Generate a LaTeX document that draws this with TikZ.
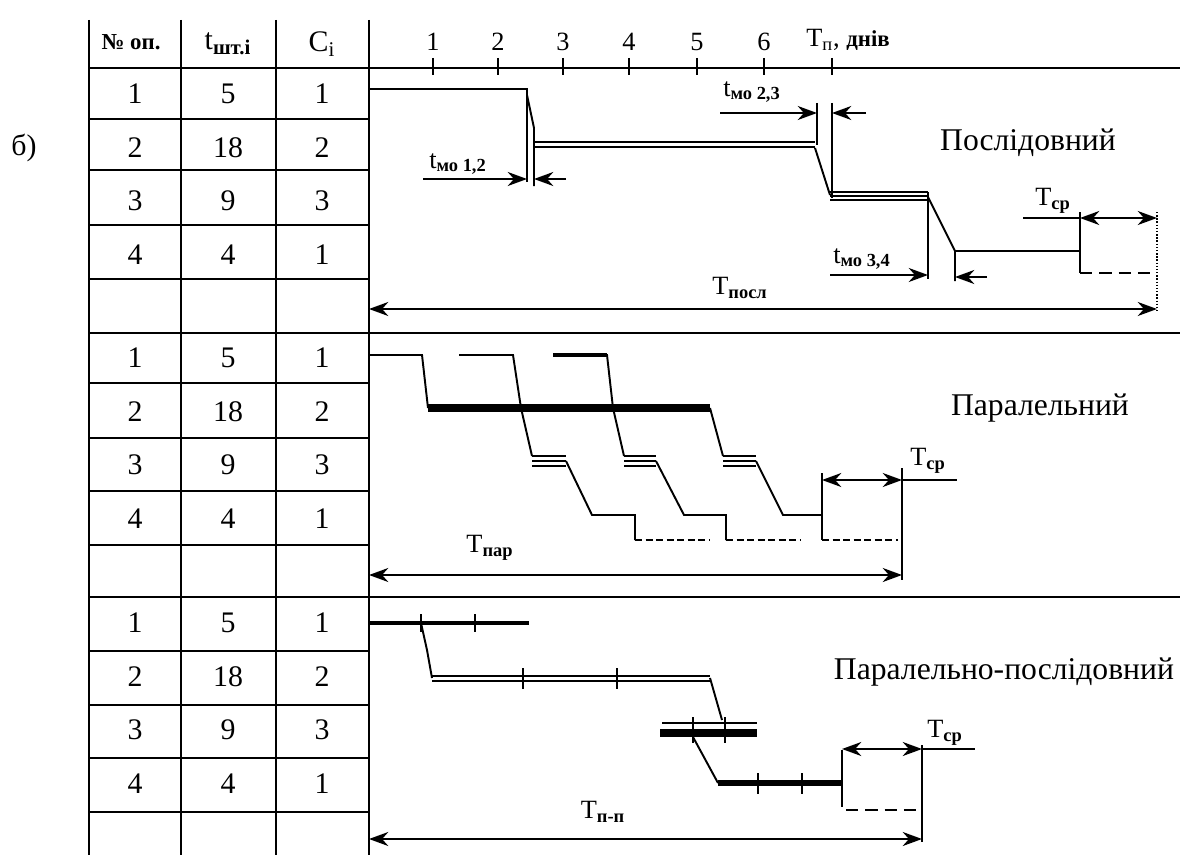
\documentclass[tikz,border=0pt]{standalone}
\usepackage{fontspec}
\setmainfont{Liberation Serif}
\usetikzlibrary{arrows.meta}
\begin{document}
\begin{tikzpicture}[x=0.02cm,y=-0.02cm,
  tab/.style={line width=1.5pt},
  ln/.style={line width=1.1pt},
  bar/.style={line width=4.5pt},
  tk/.style={line width=1.6pt},
  ar/.style={line width=1.1pt,-{Stealth[length=11pt,width=8pt]}},
  dar/.style={line width=1.1pt,{Stealth[length=11pt,width=8pt]}-{Stealth[length=11pt,width=8pt]}},
  dsh/.style={line width=1.6pt,dash pattern=on 7pt off 4pt},
  dsht/.style={line width=1.1pt,dash pattern=on 4pt off 2pt},
  num/.style={font=\fontsize{17}{20}\selectfont, inner sep=0pt},
  hd/.style={font=\fontsize{13}{15}\selectfont, inner sep=0pt},
  axl/.style={font=\fontsize{15}{18}\selectfont, inner sep=0pt},
  lb/.style={font=\fontsize{15}{18}\selectfont, inner sep=0pt},
  ttl/.style={font=\fontsize{18}{21}\selectfont, inner sep=0pt}
]
\useasboundingbox (0,0) rectangle (1183,855);

% ---------- table ----------
\foreach \x in {89,181,276,369} \draw[tab] (\x,20) -- (\x,855);
\foreach \y in {119,170,225,279,383,438,491,545,651,705,758,812} \draw[tab] (89,\y) -- (369,\y);
\foreach \y in {68,333,597} \draw[tab] (89,\y) -- (1180,\y);

\node[num] (b) at (24,148) {б)};
\node[hd] (h1) at (131,42) {\bfseries№ оп.};
\node[num] (h2) at (228,44) {t\textsubscript{\bfseries шт.і}};
\node[num] (h3) at (322,44) {C\textsubscript{і}};

\foreach \yy in {0,264,529} {
  \foreach \r/\a/\bb/\c in {1/1/5/1, 2/2/18/2, 3/3/9/3, 4/4/4/1} {
    \pgfmathsetmacro{\yc}{94+\yy+(\r-1)*53.5}
    \node[num] at (135,\yc) {\a};
    \node[num] at (228,\yc) {\bb};
    \node[num] at (322,\yc) {\c};
  }
}

% ---------- axis ----------
\foreach \x/\t in {433/1,498/2,563/3,629/4,697/5,764/6} {
  \draw[ln] (\x,58) -- (\x,75);
  \node[axl] at (\x,42) {\t};
}
\draw[ln] (832,58) -- (832,75);
\node[axl] (tp) at (848,40) {T\textsubscript{п}, {\fontsize{13}{15}\selectfont\bfseries днів}};

% ---------- section 1: sequential ----------
\draw[ln] (369,89) -- (527,89) -- (527,182);
\draw[ln] (527,95) -- (534,128) -- (534,186);
\draw[ln] (535,142) -- (815,142);
\draw[ln] (535,147) -- (815,147);
\draw[ln] (817,103) -- (817,145);
\draw[ln] (815,148) -- (830,195);
\draw[ln] (832,103) -- (832,198);
\foreach \y in {192,196,200} \draw[ln] (830,\y) -- (928,\y);
\draw[ln] (928,192) -- (928,279);
\draw[ln] (928,197) -- (955,251) -- (955,281);
\draw[ln] (955,251) -- (1080,251);
\draw[ln] (1080,212) -- (1080,273);
\draw[dsh] (1080,273) -- (1157,273);
\draw[line width=0.8pt,densely dotted] (1157,212) -- (1157,312);

\draw[ar] (423,179) -- (527,179);
\draw[ar] (566,179) -- (534,179);
\node[lb] (tmo12) at (458,164) {t\textsubscript{\bfseries мо 1,2}};
\draw[ar] (720,113) -- (817,113);
\draw[ar] (866,113) -- (832,113);
\node[lb] (tmo23) at (752,92) {t\textsubscript{\bfseries мо 2,3}};
\draw[ar] (830,275) -- (928,275);
\draw[ar] (987,277) -- (955,277);
\node[lb] (tmo34) at (862,259) {t\textsubscript{\bfseries мо 3,4}};
\draw[ln] (1023,218) -- (1080,218);
\draw[dar] (1080,218) -- (1157,218);
\node[lb] (tsr1) at (1053,201) {T\textsubscript{\bfseries ср}};
\draw[dar] (369,309) -- (1157,309);
\node[lb] (tposl) at (740,288) {T\textsubscript{\bfseries посл}};
\node[ttl] (s1) at (1028,143) {Послідовний};

% ---------- section 2: parallel ----------
\draw[ln] (369,355) -- (422,355) -- (428,408);
\draw[ln] (459,355) -- (513,355) -- (521,408) -- (532,456);
\draw[ln] (553,355) -- (607,355) -- (613,408) -- (624,456);
\draw[line width=2.2pt] (553,355) -- (607,355);
\draw[bar] (428,408) -- (710,408);
\draw[ln] (710,408) -- (723,456);
\foreach \xa/\xb in {532/566,624/656,723/756} {
  \foreach \y in {456,461,466} \draw[ln] (\xa,\y) -- (\xb,\y);
}
\draw[ln] (566,461) -- (592,515) -- (635,515) -- (635,540);
\draw[dsht] (635,540) -- (710,540);
\draw[ln] (656,461) -- (684,515) -- (726,515) -- (726,540);
\draw[dsht] (726,540) -- (800,540);
\draw[ln] (756,461) -- (783,515) -- (822,515);
\draw[ln] (822,473) -- (822,540);
\draw[dsht] (822,540) -- (898,540);
\draw[ln] (902,468) -- (902,580);
\draw[dar] (822,480) -- (902,480);
\draw[ln] (902,480) -- (957,480);
\node[lb] (tsr2) at (928,461) {T\textsubscript{\bfseries ср}};
\draw[dar] (369,575) -- (902,575);
\node[lb] (tpar) at (490,548) {T\textsubscript{\bfseries пар}};
\node[ttl] (s2) at (1040,408) {Паралельний};

% ---------- section 3: parallel-sequential ----------
\draw[line width=2.3pt] (369,623) -- (529,623);
\foreach \x in {421,475} \draw[tk] (\x,614) -- (\x,632);
\draw[ln] (421,623) -- (427,650) -- (432,678);
\draw[ln] (432,676) -- (710,676);
\draw[ln] (432,681) -- (710,681);
\foreach \x in {523,617} \draw[tk] (\x,668) -- (\x,689);
\draw[ln] (710,678) -- (722,720);
\draw[ln] (662,723) -- (757,723);
\draw[line width=5pt] (660,733) -- (757,733);
\foreach \x in {693,725} \draw[tk] (\x,717) -- (\x,743);
\draw[ln] (693,737) -- (718,783);
\draw[line width=3.4pt] (718,783) -- (842,783);
\foreach \x in {758,802} \draw[tk] (\x,773) -- (\x,794);
\draw[ln] (842,750) -- (842,807);
\draw[dsh] (846,810) -- (922,810);
\draw[ln] (922,745) -- (922,842);
\draw[dar] (842,749) -- (922,749);
\draw[ln] (922,749) -- (975,749);
\node[lb] (tsr3) at (945,733) {T\textsubscript{\bfseries ср}};
\draw[dar] (369,839) -- (922,839);
\node[lb] (tpp) at (603,812) {T\textsubscript{\bfseries п-п}};
\node[ttl] (s3) at (1004,672) {Паралельно-послідовний};
\end{tikzpicture}
\end{document}
